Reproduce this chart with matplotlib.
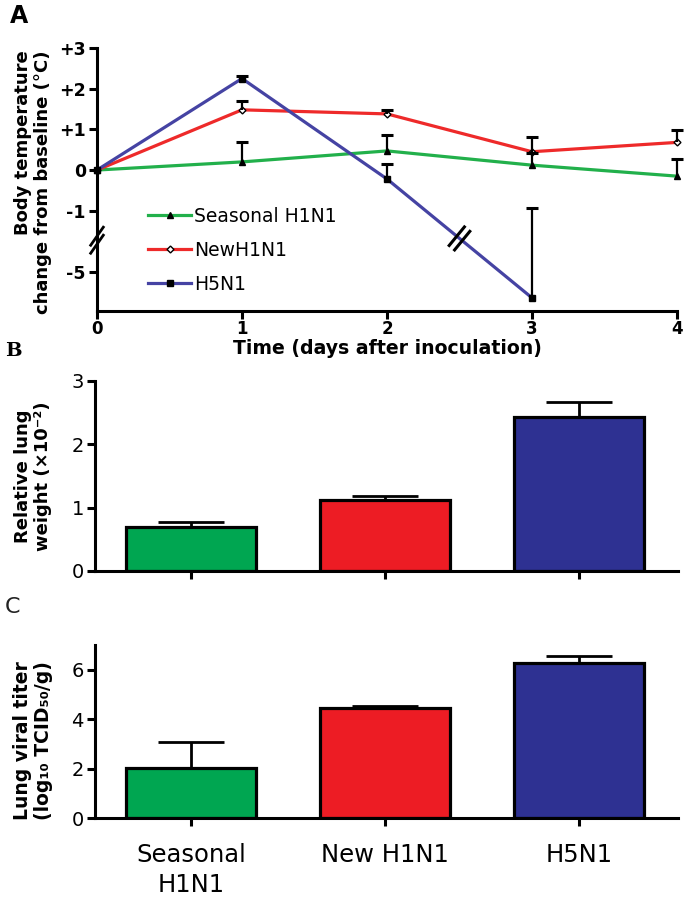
import numpy as np
import matplotlib
matplotlib.use('Agg')
import matplotlib.pyplot as plt
from matplotlib import font_manager
from matplotlib.lines import Line2D

# ---------------- data ----------------
days = [0, 1, 2, 3, 4]
seasonal_temp = [0.0, 0.20, 0.47, 0.12, -0.15]
seasonal_err = [0.0, 0.50, 0.38, 0.30, 0.42]
new_temp = [0.0, 1.48, 1.38, 0.45, 0.68]
new_err = [0.0, 0.22, 0.10, 0.37, 0.30]
h5_days = [0, 1, 2, 3]
h5_temp = [0.0, 2.25, -0.22, -5.66]
h5_err = [0.0, 0.05, 0.37, 4.73]
series_names = ['Seasonal H1N1', 'NewH1N1', 'H5N1']

groups = ['Seasonal\nH1N1', 'New H1N1', 'H5N1']
lung_weight = [0.70, 1.12, 2.43]
lung_weight_err = [0.08, 0.07, 0.24]
viral_titer = [2.02, 4.47, 6.27]
viral_titer_err = [1.05, 0.08, 0.28]

ytick_vals_A = [-5, -1, 0, 1, 2, 3]
ytick_labels_A = ['-5', '-1', '0', '+1', '+2', '+3']

# ---------------- style ----------------
line_green, line_red, line_blue = '#22b04b', '#ee2a2a', '#4543a3'
bar_colors = ['#00a651', '#ed1c24', '#2e3192']
plt.rcParams['font.family'] = ['DejaVu Sans']
W, H = 687, 899


def rect(l, t, r, b):
    return [l / W, 1 - b / H, (r - l) / W, (b - t) / H]


fig = plt.figure(figsize=(W / 100, H / 100), dpi=100)

# piecewise (broken) y scale for panel A
def fwd(y):
    y = np.asarray(y, float)
    return np.where(y >= -1.6, y,
                    np.where(y >= -4.3, -1.6 + (y + 1.6) * (0.25 / 2.7),
                             -1.85 + (y + 4.3) * 0.95))


def inv(t):
    t = np.asarray(t, float)
    return np.where(t >= -1.6, t,
                    np.where(t >= -1.85, -1.6 + (t + 1.6) * (2.7 / 0.25),
                             -4.3 + (t + 1.85) / 0.95))


SP = 2.2
def style_axes(ax):
    for s in ['top', 'right']:
        ax.spines[s].set_visible(False)
    for s in ['left', 'bottom']:
        ax.spines[s].set_linewidth(SP)
    ax.tick_params(direction='out', width=SP, length=6, pad=2)


# ---------------- panel A ----------------
axA = fig.add_axes(rect(97, 48, 677, 311))
axA.set_yscale('function', functions=(fwd, inv))
axA.set_xlim(0, 4)
axA.set_ylim(-6, 3)
style_axes(axA)

specs = [
    (days, seasonal_temp, seasonal_err, line_green, dict(marker='^', ms=4, mfc='k', mec='k')),
    (days, new_temp, new_err, line_red, dict(marker='D', ms=3.5, mfc='white', mec='k', mew=1)),
    (h5_days, h5_temp, h5_err, line_blue, dict(marker='s', ms=4.5, mfc='k', mec='k')),
]
handles = []
for (x, y, e, c, mk), name in zip(specs, series_names):
    x = np.array(x); y = np.array(y); e = np.array(e)
    ln, = axA.plot(x, y, color=c, lw=2.3, clip_on=False, zorder=3, **mk)
    m = e > 0
    axA.vlines(x[m], y[m], y[m] + e[m], color='k', lw=1.6, zorder=4, clip_on=False)
    axA.plot(x[m], y[m] + e[m], ls='none', marker='_', ms=8, mew=2.2, color='k',
             zorder=4, clip_on=False)
    handles.append(Line2D([], [], color=c, lw=2.3, **mk))

axA.set_xticks(days)
axA.set_xticklabels([str(d) for d in days], fontsize=12, fontweight='bold')
axA.tick_params(axis='x', length=5.5, pad=1)
axA.set_yticks(ytick_vals_A)
axA.set_yticklabels(ytick_labels_A, fontsize=12.5, fontweight='bold')
axA.minorticks_off()
axA.set_xlabel('Time (days after inoculation)', fontsize=13.6, fontweight='bold', labelpad=1)

leg = axA.legend(handles, series_names, loc='upper left', bbox_to_anchor=(0.075, 0.425),
                 frameon=False, fontsize=13.5, handlelength=2.3, handletextpad=0.15,
                 labelspacing=0.8, borderaxespad=0)

# break marks
to_ax = axA.transAxes.inverted()
p2 = axA.transData.transform((h5_days[2], h5_temp[2]))
p3 = axA.transData.transform((h5_days[3], h5_temp[3]))
mid = (p2 + p3) / 2
d = (p3 - p2) / np.hypot(*(p3 - p2))
n = np.array([-d[1], d[0]])
for off in (-3.5, 3.5):
    c0 = mid + d * off
    pts = to_ax.transform(np.array([c0 - n * 12, c0 + n * 12]))
    axA.add_line(Line2D(pts[:, 0], pts[:, 1], transform=axA.transAxes, color='k',
                        lw=2.2, clip_on=False, zorder=6))

pb = axA.transData.transform((0, -2.95))
sd = np.array([np.cos(np.radians(55)), np.sin(np.radians(55))])
for off in (-4, 4):
    c0 = pb + np.array([0, off])
    pts = to_ax.transform(np.array([c0 - sd * 11, c0 + sd * 11]))
    axA.add_line(Line2D(pts[:, 0], pts[:, 1], transform=axA.transAxes, color='k',
                        lw=2.0, clip_on=False, zorder=6))

fig.text(33 / W, 1 - 50 / H, 'Body temperature\nchange from baseline (°C)', rotation=90,
         ha='center', va='top', multialignment='right', fontsize=13, fontweight='bold',
         linespacing=1.15)

# ---------------- panel B ----------------
xpos = np.arange(len(groups))
axB = fig.add_axes(rect(95, 381, 678, 571))
style_axes(axB)
axB.bar(xpos, lung_weight, width=0.67, color=bar_colors, edgecolor='k', linewidth=2.3, zorder=2)
axB.errorbar(xpos, lung_weight, yerr=[np.zeros(3), lung_weight_err], fmt='none', ecolor='k',
             elinewidth=2, capsize=24, capthick=2, zorder=1)
axB.set_xlim(-0.495, 2.51)
axB.set_ylim(0, 3)
axB.set_yticks([0, 1, 2, 3])
axB.set_yticklabels(['0', '1', '2', '3'], fontsize=14)
axB.set_xticks(xpos)
axB.set_xticklabels([])
fig.text(33 / W, 1 - 476 / H, 'Relative lung\nweight (×10⁻²)', rotation=90, ha='center',
         va='center', multialignment='center', fontsize=13, fontweight='bold', linespacing=1.15)

# ---------------- panel C ----------------
axC = fig.add_axes(rect(95, 645, 678, 818))
style_axes(axC)
axC.bar(xpos, viral_titer, width=0.67, color=bar_colors, edgecolor='k', linewidth=2.3, zorder=2)
axC.errorbar(xpos, viral_titer, yerr=[np.zeros(3), viral_titer_err], fmt='none', ecolor='k',
             elinewidth=2, capsize=24, capthick=2, zorder=1)
axC.set_xlim(-0.495, 2.51)
axC.set_ylim(0, 7)
axC.set_yticks([0, 2, 4, 6])
axC.set_yticklabels(['0', '2', '4', '6'], fontsize=14)
axC.set_xticks(xpos)

names = {f.name for f in font_manager.fontManager.ttflist}
if 'Liberation Sans Narrow' in names:
    tick_font = dict(family=['Liberation Sans Narrow', 'DejaVu Sans'], size=20)
else:
    tick_font = dict(family=['DejaVu Sans'], size=17.5)
axC.set_xticklabels(groups, fontdict=tick_font, linespacing=1.3)
axC.tick_params(axis='x', pad=12)
fig.text(33 / W, 1 - 820 / H, 'Lung viral titer\n(log₁₀ TCID₅₀/g)', rotation=90, ha='center',
         va='bottom', multialignment='left', fontsize=13.5, fontweight='bold', linespacing=1.15)

# panel letters
fig.text(10 / W, 1 - 4 / H, 'A', fontsize=17, fontweight='bold', va='top', ha='left')
fig.text(5 / W, 1 - 342 / H, 'B', fontsize=14, fontweight='bold', family='DejaVu Serif',
         va='top', ha='left')
fig.text(5 / W, 1 - 597 / H, 'C', fontsize=16, va='top', ha='left', color='#222222')

fig.savefig('out.png', dpi=100)
